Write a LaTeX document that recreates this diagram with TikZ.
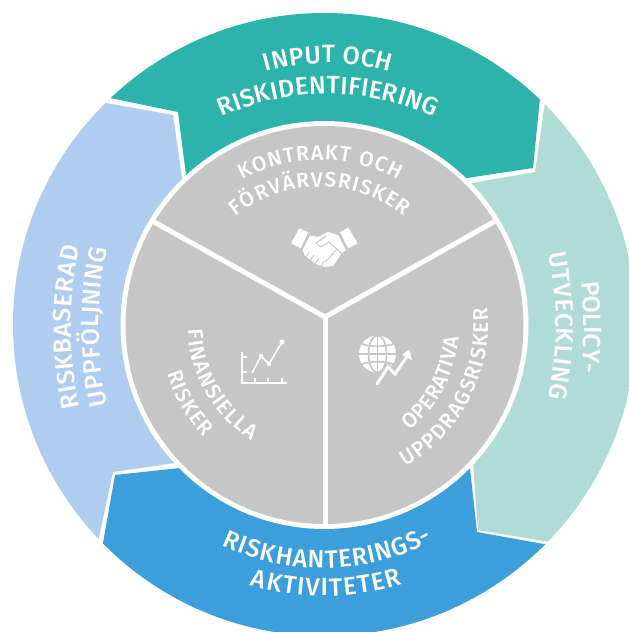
\documentclass[tikz,border=0pt]{standalone}
\usepackage{fontspec}
\setmainfont{Fira Sans}[BoldFont={Fira Sans Medium}]
\usetikzlibrary{decorations.text,calc}
\definecolor{teal1}{HTML}{2BB3AC}
\definecolor{green1}{HTML}{B0DBD6}
\definecolor{blue1}{HTML}{3C9EDA}
\definecolor{sky1}{HTML}{AFCDEE}
\definecolor{gray1}{HTML}{C6C6C6}
\newcommand\arctext[7]{\path[decorate,decoration={text along path,text align={fit to path},text={|\fontsize{#6}{#6}\selectfont\bfseries\color{white}|#7}}] ({#1+#3*cos(#4)},{632-#2+#3*sin(#4)}) arc[start angle=#4,end angle=#5,radius=#3pt];}
\tikzset{
  px/.style={x=1pt,y=-1pt,yshift=632pt},
  wline/.style={draw=white,line width=#1},
  icon/.style={draw=white,line width=1.5pt},
}
\begin{document}
\begin{tikzpicture}[x=1pt,y=1pt]
\useasboundingbox (0,0) rectangle (629,632);
\fill[white] (0,0) rectangle (629,632);
\begin{scope}[px]
\begin{scope}
\clip (0,0) rectangle (629,632);
\clip (324.5,324.5) circle[radius=311.5pt];
% outer segments
\fill[teal1] (100,60) -- (110,98) -- (178,112) -- (186,175) -- (200,260) -- (450,260) -- (467,178) -- (533,168) -- (540,98) -- (550,60) -- (540,-10) -- (100,-10) -- cycle;
\fill[green1] (545,103) -- (535,172) -- (472,183) -- (400,240) -- (400,420) -- (473,463) -- (478,530) -- (550,542) -- (565,600) -- (660,600) -- (660,60) -- (560,60) -- cycle;
\fill[blue1] (470,469) -- (477,532) -- (549,545) -- (580,650) -- (70,650) -- (103,543) -- (115,475) -- (180,468) -- (230,400) -- (420,400) -- cycle;
\fill[sky1] (106,103) -- (173,115) -- (182,178) -- (240,250) -- (240,400) -- (175,463) -- (113,472) -- (98,542) -- (60,600) -- (-10,600) -- (-10,60) -- (90,60) -- cycle;
\end{scope}
% hub
\fill[white] (324.5,325) circle[radius=204pt];
\fill[gray1] (324.5,325) circle[radius=199pt];
\draw[wline=5pt,line join=miter] (154,222) -- (325,317) -- (497,220);
\draw[wline=5pt] (325,317) -- (325,525);
% handshake icon
\fill[white] (299.3,228.3) -- (308.3,232.3) -- (300.7,248.3) -- (291,243.3) -- cycle;
\fill[white] (348.3,227.7) -- (357.7,243.3) -- (348.3,248.3) -- (340,232.3) -- cycle;
\fill[white] (310,235.5) -- (318,237) -- (328,232) -- (338,235) -- (346,250) -- (342,253) -- (333,266) -- (325,267) -- (316,264) -- (305,256) -- (302.5,250) -- cycle;
\draw[gray1,line width=1pt,line join=round] (326,236) -- (316,243) -- (321,247) -- (329,242) -- (342,254);
\draw[gray1,line width=.8pt] (337,249) -- (329,258) (333,254) -- (325,262);
\draw[gray1,line width=.8pt] (309,252) -- (306,257) (314,255) -- (310,261) (319,258) -- (315,264) (324,261) -- (321,266);
% chart icon
\draw[icon] (242,352) -- (242,383) -- (287,383);
\draw[icon,line width=1.2pt] (242,357) -- (247,357) (242,372) -- (247,372) (255,383) -- (255,378) (268,383) -- (268,378) (282,383) -- (282,378);
\draw[icon,line join=round] (252,373) -- (261,356) -- (269,364) -- (282,342);
\fill[white] (261,356) circle[radius=2.2pt] (269,364) circle[radius=2.2pt] (282,342) circle[radius=2.6pt];
% globe icon
\fill[white] (377.5,354) circle[radius=18.5pt];
\draw[gray1,line width=1.6pt] (377.5,354) ellipse[x radius=9pt,y radius=18.5pt];
\draw[gray1,line width=1.6pt] (377.5,335) -- (377.5,373) (359,354) -- (396,354);
\draw[gray1,line width=1.6pt] (362,344) .. controls (370,347) and (385,347) .. (393,344) (362,364) .. controls (370,361) and (385,361) .. (393,364);
\draw[gray1,line width=6.5pt,line join=miter] (377,384) -- (388,367) -- (395,374) -- (406,358);
\fill[gray1] (408,345) -- (399,355) -- (414,363) -- cycle;
\draw[white,line width=3pt,line join=miter,line cap=round] (377,384) -- (388,367) -- (395,374) -- (406,358);
\fill[white] (409.5,349.5) -- (402,355) -- (411.7,360) -- cycle;
\end{scope}
% texts
\arctext{328}{283}{220}{106.4}{73.6}{25}{INPUT OCH}
\arctext{328}{350}{256}{114.5}{65.5}{25}{RISKIDENTIFIERING}
\arctext{320}{325}{165}{118.2}{61.8}{21}{KONTRAKT OCH}
\arctext{320}{322}{135}{128.6}{51.4}{21}{FÖRVÄRVSRISKER}
\arctext{323}{330}{238}{244.9}{297.5}{25}{RISKHANTERINGS-}
\arctext{325}{335}{261}{253.3}{287.2}{25}{AKTIVITETER}
\arctext{451}{327}{380}{192.2}{167.8}{25}{RISKBASERAD}
\arctext{479}{327}{380}{191.9}{168.1}{25}{UPPFÖLJNING}
\arctext{204}{327}{380}{6.8}{-6.8}{25}{POLICY-}
\arctext{186}{326}{370}{11.3}{-11.3}{25}{UTVECKLING}
\arctext{325}{325}{137}{182}{237.5}{21}{FINANSIELLA}
\arctext{325}{325}{165}{197}{222.8}{21}{RISKER}
\arctext{325}{325}{135}{-51.5}{-5.4}{21}{OPERATIVA}
\arctext{325}{325}{163}{-60.5}{6}{21}{UPPDRAGSRISKER}
\end{tikzpicture}
\end{document}
